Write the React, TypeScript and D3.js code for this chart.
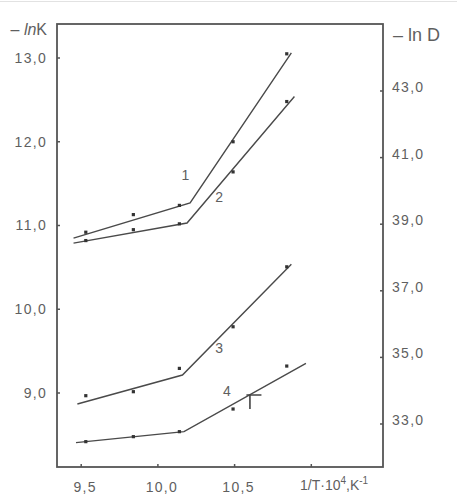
import React from "react";
import * as d3 from "d3";

// ---- data ----
const xValues = [9.53, 9.84, 10.14, 10.49, 10.84];
// curves 1, 2 : -lnK (left axis)
const curve1Points = [10.92, 11.13, 11.24, 12.0, 13.05];
const curve2Points = [10.82, 10.95, 11.02, 11.64, 12.48];
// curves 3, 4 : -lnD (right axis)
const curve3Points = [33.85, 33.97, 34.67, 35.92, 37.72];
const curve4Points = [32.47, 32.62, 32.77, 33.45, 34.74];

// broken-line fits: [x, y]
const curve1Fit: [number, number][] = [[9.45, 10.85], [10.21, 11.27], [10.87, 13.06]];
const curve2Fit: [number, number][] = [[9.45, 10.79], [10.19, 11.03], [10.89, 12.54]];
const curve3Fit: [number, number][] = [[9.475, 33.6], [10.16, 34.47], [10.87, 37.8]];
const curve4Fit: [number, number][] = [[9.466, 32.44], [10.17, 32.77], [10.965, 34.82]];

const curveNames = ["1", "2", "3", "4"];
// label anchors: x, value on the curve's own axis
const curveLabelX = [10.18, 10.4, 10.4, 10.45];
const curveLabelY = [11.6, 11.34, 35.28, 34.0];

const xTicks = [9.5, 10.0, 10.5, 11.0];
const xTickLabels = ["9,5", "10,0", "10,5", ""];
const leftTicks = [9, 10, 11, 12, 13];
const leftTickLabels = ["9,0", "10,0", "11,0", "12,0", "13,0"];
const rightTicks = [33, 35, 37, 39, 41, 43];
const rightTickLabels = ["33,0", "35,0", "37,0", "39,0", "41,0", "43,0"];

const W = 457;
const H = 503;
const frame = { left: 57, right: 383, top: 24, bottom: 467 };

const LINE = "#4a4a4a";
const TEXT = "#5f5f5f";
const FONT = "'Liberation Sans', Arial, sans-serif";

export default function App() {
  const x = d3.scaleLinear().domain([9.5, 11]).range([81.2, 311.3]);
  const yL = d3.scaleLinear().domain([9, 13]).range([393, 58]);
  const yR = d3.scaleLinear().domain([33, 43]).range([424, 91]);

  const lineL = d3.line<[number, number]>().x((d) => x(d[0])).y((d) => yL(d[1]));
  const lineR = d3.line<[number, number]>().x((d) => x(d[0])).y((d) => yR(d[1]));

  const series = [
    { pts: curve1Points, fit: curve1Fit, y: yL, line: lineL },
    { pts: curve2Points, fit: curve2Fit, y: yL, line: lineL },
    { pts: curve3Points, fit: curve3Fit, y: yR, line: lineR },
    { pts: curve4Points, fit: curve4Fit, y: yR, line: lineR },
  ];

  const errX = x(10.6);
  const errY = yR(33.87);

  return (
    <svg
      width={W}
      height={H}
      style={{ position: "absolute", left: 0, top: 0, background: "#fff" }}
      fontFamily={FONT}
    >
      <line x1={0} x2={W} y1={1.5} y2={1.5} stroke="#e2e2e2" strokeWidth={1} />
      {/* frame */}
      <rect
        x={frame.left}
        y={frame.top}
        width={frame.right - frame.left}
        height={frame.bottom - frame.top}
        fill="none"
        stroke="#555"
        strokeWidth={1.8}
      />
      {/* left ticks */}
      {leftTicks.map((v, i) => (
        <g key={"l" + v}>
          <line x1={frame.left} x2={frame.left + 3} y1={yL(v)} y2={yL(v)} stroke="#555" strokeWidth={1.5} />
          <text
            x={frame.left - 10}
            y={yL(v)}
            dy="0.35em"
            textAnchor="end"
            fontSize={14}
            letterSpacing={1.3}
            fill={TEXT}
          >
            {leftTickLabels[i]}
          </text>
        </g>
      ))}
      {/* right ticks */}
      {rightTicks.map((v, i) => (
        <g key={"r" + v}>
          <line x1={frame.right - 3} x2={frame.right} y1={yR(v)} y2={yR(v)} stroke="#555" strokeWidth={1.5} />
          <text
            x={frame.right + 9}
            y={yR(v) + 1}
            textAnchor="start"
            fontSize={14}
            letterSpacing={1.3}
            fill={TEXT}
          >
            {rightTickLabels[i]}
          </text>
        </g>
      ))}
      {/* bottom ticks */}
      {xTicks.map((v, i) => (
        <g key={"x" + v}>
          <line x1={x(v)} x2={x(v)} y1={frame.bottom} y2={frame.bottom - 3} stroke="#555" strokeWidth={1.5} />
          <text x={x(v) + 4} y={492} textAnchor="middle" fontSize={14} letterSpacing={1.3} fill={TEXT}>
            {xTickLabels[i]}
          </text>
        </g>
      ))}
      {/* axis titles */}
      <text x={47} y={35} textAnchor="end" fontSize={16} fill={TEXT}>
        – <tspan fontStyle="italic">ln</tspan>K
      </text>
      <text x={393} y={41} textAnchor="start" fontSize={18} fill={TEXT}>
        – <tspan>ln</tspan> D
      </text>
      <text x={300} y={490} fontSize={14} fill={TEXT}>
        1/T·10
        <tspan dy={-6} fontSize={10}>4</tspan>
        <tspan dy={6}>,K</tspan>
        <tspan dy={-6} fontSize={10}>-1</tspan>
      </text>

      {/* series */}
      {series.map((s, k) => (
        <g key={"s" + k}>
          <path d={s.line(s.fit) || ""} fill="none" stroke={LINE} strokeWidth={1.4} />
          {s.pts.map((v, i) => (
            <rect
              key={i}
              x={x(xValues[i]) - 1.6}
              y={s.y(v) - 1.6}
              width={3.2}
              height={3.2}
              fill="#333"
            />
          ))}
        </g>
      ))}

      {/* curve labels */}
      {series.map((s, k) => (
        <text
          key={"lab" + k}
          x={x(curveLabelX[k])}
          y={s.y(curveLabelY[k])}
          dy="0.35em"
          textAnchor="middle"
          fontSize={14}
          fill={TEXT}
        >
          {curveNames[k]}
        </text>
      ))}

      {/* error mark on curve 4 */}
      <path
        d={`M${errX - 3.5},${errY} H${errX + 11.5} M${errX},${errY} V${errY + 14}`}
        fill="none"
        stroke="#444"
        strokeWidth={1.6}
      />
    </svg>
  );
}
